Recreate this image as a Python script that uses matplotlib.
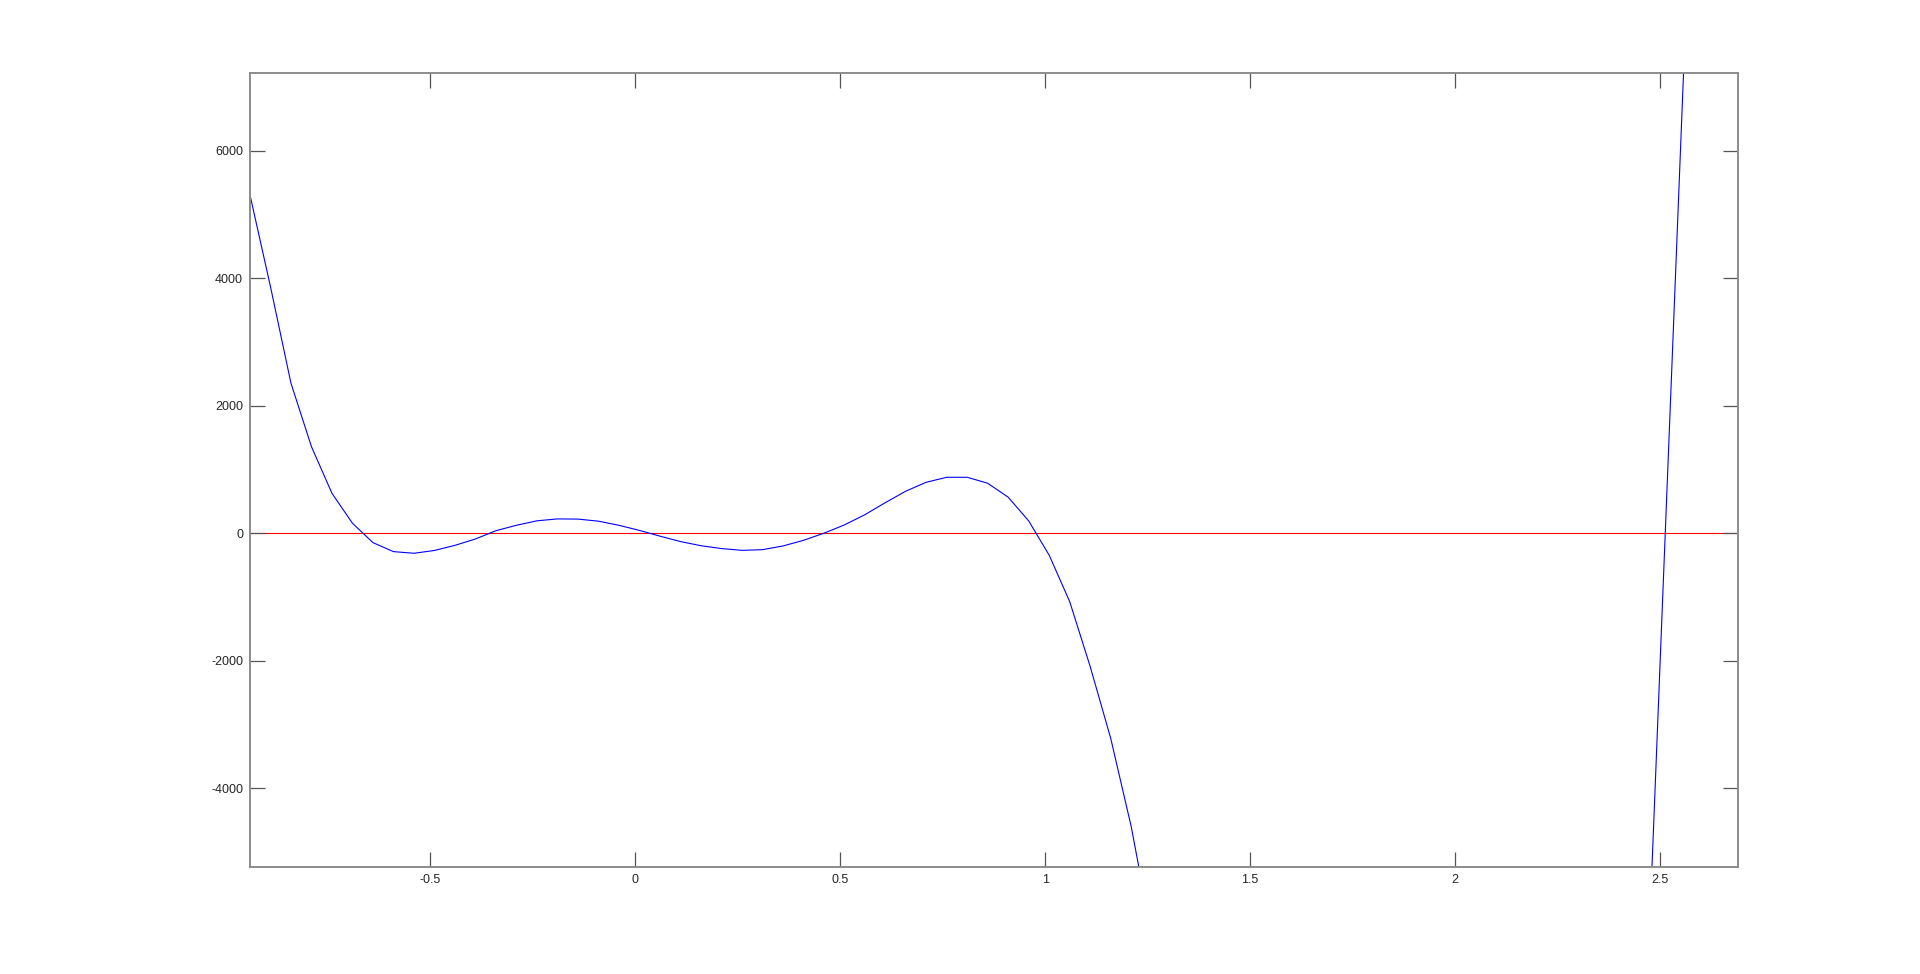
import matplotlib
matplotlib.use("Agg")
import matplotlib.pyplot as plt

# ---- data ----
x_left = [-0.94, -0.89, -0.84, -0.79, -0.74, -0.69, -0.64, -0.59, -0.54, -0.49,
          -0.44, -0.39, -0.34, -0.29, -0.24, -0.19, -0.14, -0.09, -0.04, 0.01,
          0.06, 0.11, 0.16, 0.21, 0.26, 0.31, 0.36, 0.41, 0.46, 0.51,
          0.56, 0.61, 0.66, 0.71, 0.76, 0.81, 0.86, 0.91, 0.96, 1.01,
          1.06, 1.11, 1.16, 1.21, 1.26]
y_left = [5307, 3868, 2353, 1358, 627, 157, -147, -288, -314, -270,
          -190, -90, 40, 125, 195, 225, 222, 190, 125, 45,
          -45, -130, -195, -240, -268, -258, -200, -112, 0, 130,
          290, 480, 660, 800, 878, 878, 784, 565, 193, -345,
          -1073, -2092, -3216, -4600, -6300]
x_right = [2.46, 2.51, 2.56]
y_right = [-8575, -485, 7600]

xticks = [-0.5, 0, 0.5, 1, 1.5, 2, 2.5]
xticklabels = ["-0.5", "0", "0.5", "1", "1.5", "2", "2.5"]
yticks = [-4000, -2000, 0, 2000, 4000, 6000]
yticklabels = ["-4000", "-2000", "0", "2000", "4000", "6000"]
xlim = (-0.94, 2.69)
ylim = (-5230, 7225)

plt.rcParams['font.family'] = ['Liberation Sans', 'DejaVu Sans']

fig = plt.figure(figsize=(19.2, 9.74), dpi=100)
ax = fig.add_axes([0.1302, 0.1102, 0.7749, 0.8152])

ax.axhline(0, color='#ff0000', lw=0.8, zorder=1)
ax.plot(x_left, y_left, color='#0000ff', lw=0.8, zorder=2)
ax.plot(x_right, y_right, color='#0000ff', lw=0.8, zorder=2)

ax.set_xlim(*xlim)
ax.set_ylim(*ylim)
ax.set_xticks(xticks)
ax.set_xticklabels(xticklabels)
ax.set_yticks(yticks)
ax.set_yticklabels(yticklabels)

for s in ax.spines.values():
    s.set_color('#8c8c8c')
    s.set_linewidth(1.4)

ax.tick_params(axis='both', direction='in', length=10.7, width=0.9,
               color='#555555', labelsize=9, labelcolor='#262626',
               top=True, right=True, pad=5)

fig.savefig("out.png", dpi=100, facecolor='white')
